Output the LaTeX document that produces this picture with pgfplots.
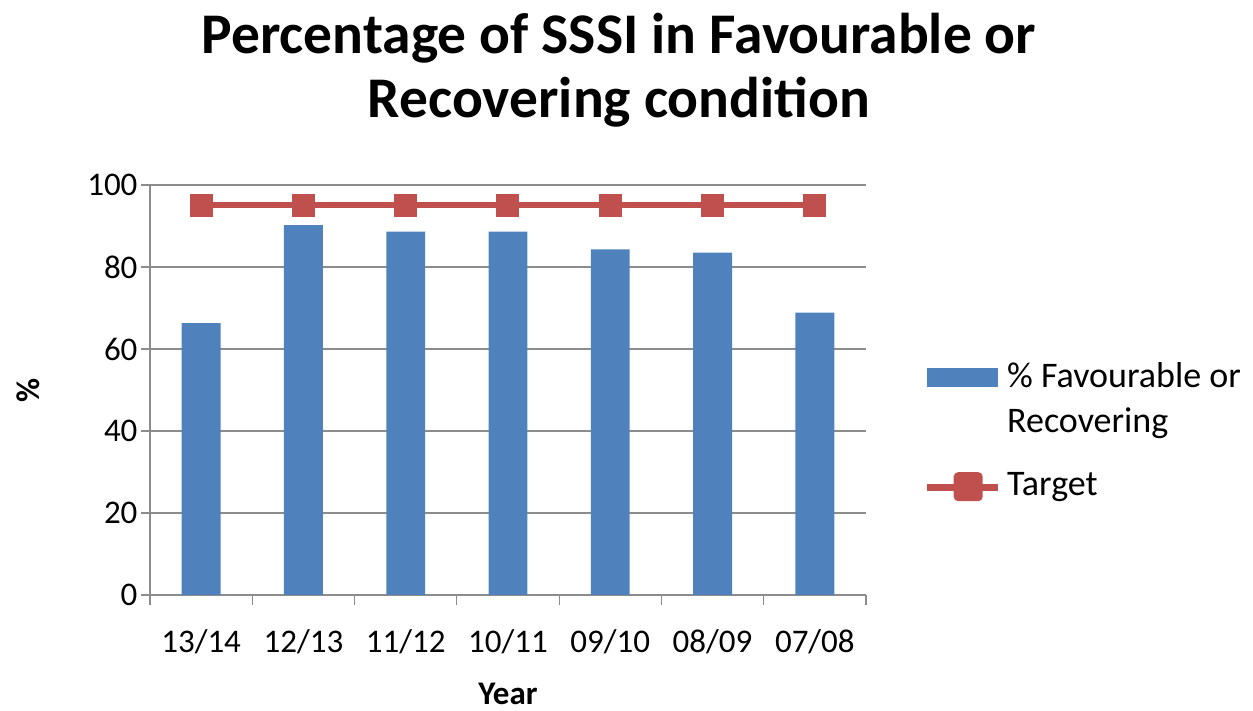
\documentclass[border=0pt]{standalone}
\usepackage{fontspec}
\setmainfont{Carlito}
\usepackage{pgfplots}
\pgfplotsset{compat=1.18}
\definecolor{barblue}{HTML}{4F81BD}
\definecolor{tgtred}{HTML}{C0504D}
\definecolor{gridgray}{HTML}{8C8C8C}
\begin{document}
\begin{tikzpicture}
\useasboundingbox (0,0) rectangle (1253pt,711pt);
\node[anchor=base, font=\bfseries\fontsize{57.5}{66}\selectfont] at (619pt,657pt) {Percentage of SSSI in Favourable or};
\node[anchor=base, font=\bfseries\fontsize{57.5}{66}\selectfont] at (619pt,593pt) {Recovering condition};
\begin{axis}[
  at={(150pt,116pt)}, anchor=south west,
  scale only axis, width=716pt, height=410pt,
  xmin=-0.5, xmax=6.5, ymin=0, ymax=100,
  ytick={0,20,...,100},
  xtick={0,...,6},
  xticklabels={13/14,12/13,11/12,10/11,09/10,08/09,07/08},
  minor xtick={-0.5,0.5,...,6.5},
  major x tick style={draw=none},
  tick align=outside,
  minor tick length=10pt, major tick length=9pt,
  ymajorgrids, grid style={gridgray, line width=1.2pt},
  axis x line*=bottom, axis y line*=left,
  axis line style={gridgray, line width=1.2pt},
  tick style={gridgray, line width=1.2pt},
  ticklabel style={font=\fontsize{33}{39}\selectfont, black},
  xticklabel style={yshift=-22pt},
  /pgf/number format/assume math mode=true,
  xlabel={Year}, ylabel={\%},
  every axis x label/.style={at={(axis description cs:0.5,-0.268)}, anchor=base,
    font=\bfseries\fontsize{33}{38}\selectfont},
  every axis y label/.style={at={(axis description cs:-0.170,0.5)}, rotate=90, anchor=center,
    font=\bfseries\fontsize{33}{38}\selectfont},
  legend style={at={(1.0796,0.5756)}, anchor=north west, draw=none, fill=none,
    inner sep=0pt, column sep=0pt, row sep=7pt,
    font=\fontsize{36}{43}\selectfont,
    cells={anchor=base west},
    nodes={text height=26pt, text depth=8pt, inner ysep=2pt, inner xsep=6pt}},
]
\addplot[ybar, bar width=0.38, fill=barblue, draw=none,
  legend image code/.code={\fill[barblue] (0pt,0pt) rectangle (71pt,19pt);}]
  coordinates {(0,66.3) (1,90.2) (2,88.6) (3,88.6) (4,84.3) (5,83.5) (6,68.9)};
\addlegendentry{\% Favourable or}
\addlegendimage{empty legend}
\addlegendentry[text depth=26pt]{Recovering}
\addplot[tgtred, line width=6pt, mark=square*, mark size=11pt,
  mark options={rounded corners=2pt, line width=1pt},
  legend image code/.code={\draw[tgtred, line width=7pt] (0pt,8pt) -- (71pt,8pt);
    \fill[tgtred, rounded corners=2pt] (30pt,-3pt) rectangle (53pt,20pt);}]
  coordinates {(0,95) (1,95) (2,95) (3,95) (4,95) (5,95) (6,95)};
\addlegendentry{Target}
\end{axis}
\end{tikzpicture}
\end{document}
